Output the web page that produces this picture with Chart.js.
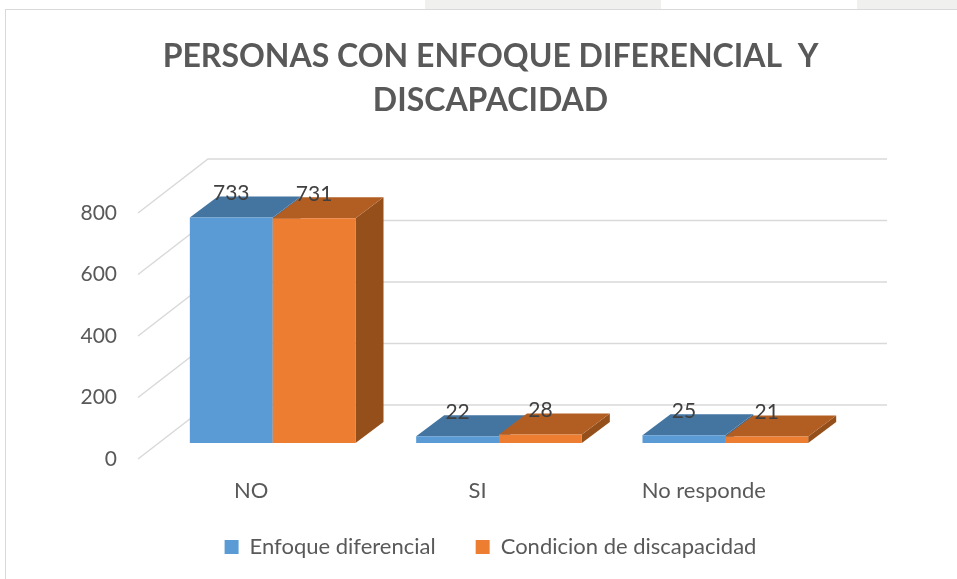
<!DOCTYPE html>
<html><head><meta charset="utf-8">
<style>
html,body{margin:0;padding:0;background:#fff;width:957px;height:579px;overflow:hidden}
#wrap{position:relative;width:957px;height:579px}
.tab{position:absolute;top:0;height:9px;background:#f0f0ee}
#frame{position:absolute;left:5px;top:9px;width:960px;height:600px;border:1.5px solid #d9d9d9}
canvas{position:absolute;left:0;top:0}
</style>
<script src="https://cdn.jsdelivr.net/npm/chart.js@4"></script>
</head><body><div id="wrap">
<div class="tab" style="left:425px;width:236px"></div>
<div class="tab" style="left:857px;width:100px"></div>
<div id="frame"></div>
<canvas id="c" width="957" height="579"></canvas>
</div>
<script>
const categories = ['NO', 'SI', 'No responde'];
const enfoqueDiferencial = [733, 22, 25];
const condicionDiscapacidad = [731, 28, 21];
const seriesNames = ['Enfoque diferencial', 'Condicion de discapacidad'];
const yTicks = [0, 200, 400, 600, 800];

const FONT = 'Lato, Carlito, sans-serif';
const faces = [
  {front:'#5B9BD5', top:'#4475A1', side:'#3D6A93'},
  {front:'#ED7D31', top:'#B25E22', side:'#954F1A'}
];
const plane = {dx:70, dy:-54};
const barShift = {dx:21.5, dy:-16};
const barDepth = {dx:28, dy:-21};

const wall = {
  id:'wall',
  beforeDatasetsDraw(chart){
    const {ctx, scales:{y}, chartArea:a} = chart;
    ctx.save();
    ctx.strokeStyle = '#d9d9d9';
    ctx.lineWidth = 1.5;
    y.ticks.forEach(t=>{
      const py = y.getPixelForValue(t.value);
      ctx.beginPath();
      ctx.moveTo(a.left, py);
      ctx.lineTo(a.left+plane.dx, py+plane.dy);
      ctx.lineTo(a.right+plane.dx, py+plane.dy);
      ctx.stroke();
    });
    ctx.restore();
  }
};
const boxes = {
  id:'boxes',
  beforeDatasetDraw(){ return false; },
  afterDatasetsDraw(chart){
    const {ctx} = chart;
    const d = barDepth;
    categories.forEach((_,i)=>{
      chart.data.datasets.forEach((ds,k)=>{
        const el = chart.getDatasetMeta(k).data[i];
        const c = faces[k];
        const l = el.x-el.width/2, r = el.x+el.width/2, t = el.y, b = el.base;
        ctx.save();
        ctx.translate(barShift.dx, barShift.dy);
        ctx.fillStyle = c.side;
        ctx.beginPath();
        ctx.moveTo(r,t); ctx.lineTo(r+d.dx,t+d.dy); ctx.lineTo(r+d.dx,b+d.dy); ctx.lineTo(r,b);
        ctx.closePath(); ctx.fill();
        ctx.fillStyle = c.top;
        ctx.beginPath();
        ctx.moveTo(l,t); ctx.lineTo(l+d.dx,t+d.dy); ctx.lineTo(r+d.dx,t+d.dy); ctx.lineTo(r,t);
        ctx.closePath(); ctx.fill();
        el.draw(ctx);
        ctx.restore();
      });
    });
    ctx.save();
    ctx.fillStyle = '#404040';
    ctx.font = '21px '+FONT;
    ctx.textAlign = 'center';
    ctx.textBaseline = 'middle';
    chart.data.datasets.forEach((ds,k)=>{
      chart.getDatasetMeta(k).data.forEach((el,i)=>{
        ctx.fillText(String(ds.data[i]), el.x+barShift.dx, el.y+barShift.dy-24);
      });
    });
    ctx.restore();
  }
};

new Chart(document.getElementById('c'), {
  type:'bar',
  data:{
    labels:categories,
    datasets:[
      {label:seriesNames[0], data:enfoqueDiferencial, backgroundColor:faces[0].front, categoryPercentage:0.732, barPercentage:1},
      {label:seriesNames[1], data:condicionDiscapacidad, backgroundColor:faces[1].front, categoryPercentage:0.732, barPercentage:1}
    ]
  },
  plugins:[wall, boxes],
  options:{
    responsive:false,
    animation:false,
    layout:{padding:{left:24,right:0,top:0,bottom:11}},
    plugins:{
      tooltip:{enabled:false},
      title:{
        display:true,
        text:['PERSONAS CON ENFOQUE DIFERENCIAL  Y','DISCAPACIDAD'],
        color:'#595959',
        font:{family:FONT,size:32,weight:'bold',lineHeight:1.375},
        padding:{top:35,bottom:90},
        fullSize:true
      },
      legend:{
        position:'bottom',
        fullSize:true,
        labels:{
          color:'#595959',
          font:{family:FONT,size:22},
          boxWidth:14,boxHeight:14,padding:40
        }
      }
    },
    scales:{
      x:{
        grid:{display:false},
        border:{display:false},
        ticks:{color:'#595959',font:{family:FONT,size:22},padding:11,maxRotation:0},
        afterFit(s){
          s.height = 37;
          s._computeLabelArea = () => undefined;
        }
      },
      y:{
        min:0,max:800,
        afterBuildTicks(s){ s.ticks = yTicks.map(v=>({value:v})); },
        grid:{display:false},
        border:{display:false},
        ticks:{color:'#595959',font:{family:FONT,size:21},padding:13},
        afterFit(s){ s.width = 114; }
      },
      rightGap:{
        position:'right',
        min:0,max:800,
        grid:{display:false},
        border:{display:false},
        ticks:{display:false},
        afterFit(s){ s.width = 140; }
      }
    }
  }
});
</script>
</body></html>
